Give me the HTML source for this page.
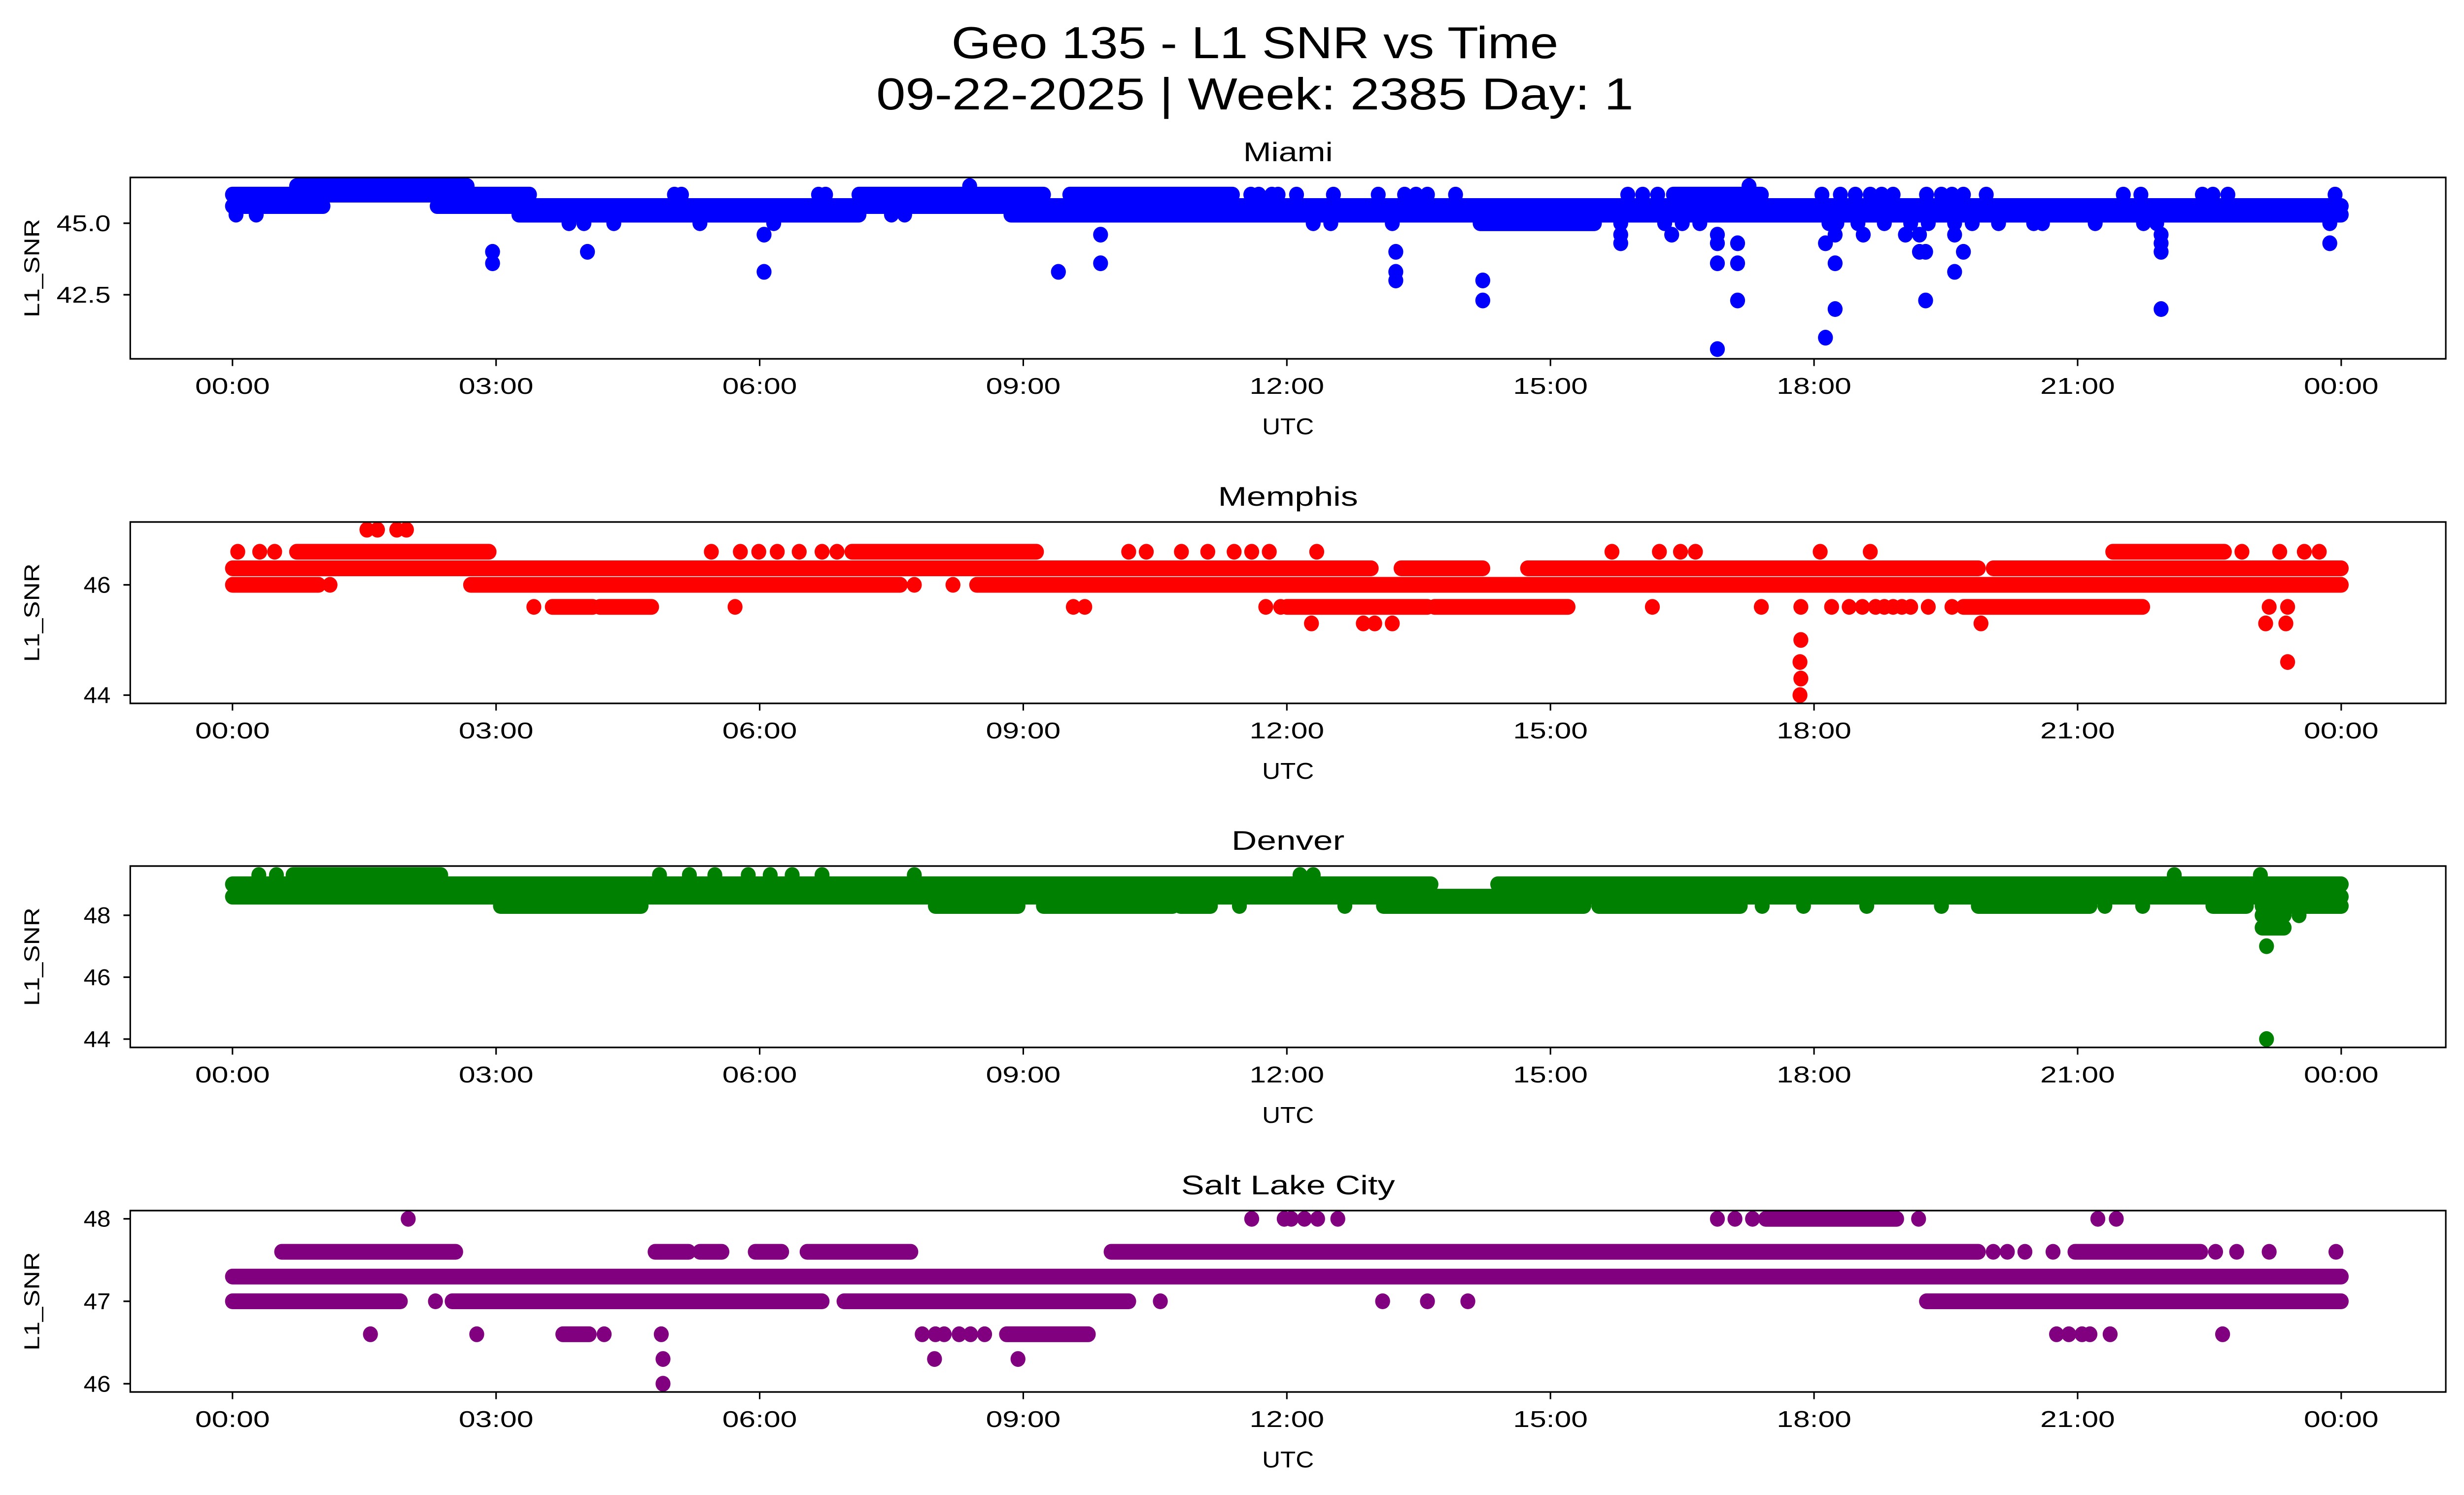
<!DOCTYPE html>
<html><head><meta charset="utf-8"><title>Geo 135 - L1 SNR vs Time</title>
<style>html,body{margin:0;padding:0;background:#fff;width:100%;height:100%;overflow:hidden}svg{display:block;position:absolute;left:0;top:0;width:100vw;height:100vh;font-family:"Liberation Sans","DejaVu Sans",sans-serif}</style>
</head><body>
<svg id="fig" xmlns="http://www.w3.org/2000/svg" viewBox="0 0 5278 3033" preserveAspectRatio="none">
<rect width="5278" height="3033" fill="#fff"/>
<text x="2688" y="118" font-size="91" text-anchor="middle" textLength="1300" lengthAdjust="spacingAndGlyphs">Geo 135 - L1 SNR vs Time</text>
<text x="2688" y="222" font-size="91" text-anchor="middle" textLength="1622" lengthAdjust="spacingAndGlyphs">09-22-2025 | Week: 2385 Day: 1</text>
</svg>
<script>
// ---- shared axis data ----
const xTickHours = [0,3,6,9,12,15,18,21,24];
const xTickLabels = ["00:00","03:00","06:00","09:00","12:00","15:00","18:00","21:00","00:00"];

// ---- Miami ----
const miamiBandLevel = [46.3,46.0,46.0,46.0,46.0,45.6,45.6,45.3,45.3,45.3,45.0];
const miamiBandStart = [0.73,0,7.13,9.53,16.4,0,2.33,3.26,8.86,9.2,14.2];
const miamiBandEnd   = [2.67,3.38,9.23,11.38,17.4,1.03,24,7.13,9.23,24,15.5];
const miamiDotTime  = [2.96,2.96,4.04,6.05,6.05,9.4,9.88,9.88,13.24,13.24,13.24,14.23,14.23,15.8,15.8,16.38,16.9,16.9,16.9,16.9,17.13,17.13,17.13,18.13,18.13,18.24,18.24,18.24,18.56,19.04,19.2,19.2,19.27,19.27,19.6,19.6,19.7,21.95,21.95,21.95,21.95,23.87,
 3.83,4.0,4.34,5.32,6.16,12.3,12.5,13.2,15.8,16.3,16.5,16.7,18.17,18.26,18.5,18.8,19.1,19.3,19.6,19.8,20.1,20.5,20.6,21.2,21.75,21.9,23.87,
 0.04,0.27,7.5,7.65,8.39,17.26,
 5.03,5.11,6.67,6.75,11.59,11.68,11.83,11.9,12.11,12.53,13.04,13.34,13.47,13.6,13.92,15.88,16.05,16.22,18.09,18.3,18.47,18.64,18.77,18.9,19.28,19.45,19.57,19.7,19.96,21.52,21.72,22.42,22.54,22.71,23.93];
const miamiDotValue = [44.0,43.6,44.0,44.6,43.3,43.3,44.6,43.6,44.0,43.3,43.0,43.0,42.3,44.6,44.3,44.6,44.6,44.3,43.6,40.6,44.3,43.6,42.3,44.3,41.0,44.6,43.6,42.0,44.6,44.6,44.6,44.0,44.0,42.3,44.6,43.3,44.0,44.6,44.3,44.0,42.0,44.3,
 45.0,45.0,45.0,45.0,45.0,45.0,45.0,45.0,45.0,45.0,45.0,45.0,45.0,45.0,45.0,45.0,45.0,45.0,45.0,45.0,45.0,45.0,45.0,45.0,45.0,45.0,45.0,
 45.3,45.3,45.3,45.3,46.3,46.3,
 46.0,46.0,46.0,46.0,46.0,46.0,46.0,46.0,46.0,46.0,46.0,46.0,46.0,46.0,46.0,46.0,46.0,46.0,46.0,46.0,46.0,46.0,46.0,46.0,46.0,46.0,46.0,46.0,46.0,46.0,46.0,46.0,46.0,46.0,46.0];
const miamiYTicks = [42.5,45.0];
const miamiYTickLabels = ["42.5","45.0"];

// ---- Memphis ----
const memphisBandLevel = [46.6,46.6,46.6,46.3,46.3,46.3,46.3,46.0,46.0,46.0,45.6,45.6,45.6,45.6,45.6];
const memphisBandStart = [0.73,7.05,21.4,0,13.3,14.74,20.04,0,2.71,8.47,3.64,4.18,12,13.68,19.7];
const memphisBandEnd   = [2.92,9.15,22.67,12.96,14.23,19.87,24,0.98,7.6,24,4.1,4.77,13.6,15.2,21.74];
const memphisDotTime  = [1.53,1.65,1.87,1.98,
 0.06,0.31,0.48,5.45,5.78,5.99,6.2,6.45,6.71,6.88,10.2,10.4,10.8,11.1,11.4,11.6,11.8,12.34,15.7,16.24,16.48,16.65,18.07,18.64,22.87,23.3,23.58,23.75,
 1.11,7.76,8.2,
 3.43,5.72,9.57,9.7,11.76,11.93,16.16,17.4,17.85,18.2,18.4,18.55,18.7,18.8,18.9,19.0,19.1,19.3,19.57,23.18,23.39,
 12.28,12.87,13.0,13.2,19.9,23.14,23.37,
 17.85,17.84,23.39,17.85,17.84];
const memphisDotValue = [47.0,47.0,47.0,47.0,
 46.6,46.6,46.6,46.6,46.6,46.6,46.6,46.6,46.6,46.6,46.6,46.6,46.6,46.6,46.6,46.6,46.6,46.6,46.6,46.6,46.6,46.6,46.6,46.6,46.6,46.6,46.6,46.6,
 46.0,46.0,46.0,
 45.6,45.6,45.6,45.6,45.6,45.6,45.6,45.6,45.6,45.6,45.6,45.6,45.6,45.6,45.6,45.6,45.6,45.6,45.6,45.6,45.6,
 45.3,45.3,45.3,45.3,45.3,45.3,45.3,
 45.0,44.6,44.6,44.3,44.0];
const memphisYTicks = [44,46];
const memphisYTickLabels = ["44","46"];

// ---- Denver ----
const denverBandLevel = [49.3,49.0,49.0,48.6,48.3,48.3,48.3,48.3,48.3,48.3,48.3,48.3,48.3,48.0,47.6];
const denverBandStart = [0.69,0,14.4,0,3.05,8.0,9.23,10.79,13.1,15.55,19.87,22.54,23.1,23.1,23.1];
const denverBandEnd   = [2.37,13.64,24,24,4.65,8.94,10.7,11.13,15.38,17.16,21.14,22.92,24,23.35,23.35];
const denverDotTime  = [0.3,0.5,4.86,5.2,5.49,5.87,6.12,6.37,6.71,7.76,12.15,12.3,22.1,23.08,
 11.46,12.66,17.41,17.88,18.6,19.45,21.31,21.74,
 23.52,23.15,23.15];
const denverDotValue = [49.3,49.3,49.3,49.3,49.3,49.3,49.3,49.3,49.3,49.3,49.3,49.3,49.3,49.3,
 48.3,48.3,48.3,48.3,48.3,48.3,48.3,48.3,
 48.0,47.0,44.0];
const denverYTicks = [44,46,48];
const denverYTickLabels = ["44","46","48"];

// ---- Salt Lake City ----
const slcBandLevel = [47.6,47.6,47.6,47.6,47.6,47.6,47.6,47.3,47.0,47.0,47.0,47.0,48.0,46.6,46.6];
const slcBandStart = [0.56,4.81,5.32,5.95,6.54,10.0,20.97,0,0,2.5,6.96,19.28,17.45,3.76,8.81];
const slcBandEnd   = [2.54,5.19,5.57,6.25,7.72,19.87,22.4,24,1.91,6.71,10.2,24,18.94,4.06,9.74];
const slcDotTime  = [2.0,11.6,11.97,12.05,12.2,12.35,12.58,16.9,17.1,17.3,19.19,21.23,21.44,
 20.04,20.2,20.4,20.72,22.57,22.81,23.18,23.94,
 2.31,10.56,13.09,13.6,14.06,
 1.57,2.78,4.23,4.88,7.85,8.0,8.1,8.27,8.4,8.56,20.76,20.9,21.05,21.14,21.37,22.65,
 4.9,7.99,8.94,4.9];
const slcDotValue = [48.0,48.0,48.0,48.0,48.0,48.0,48.0,48.0,48.0,48.0,48.0,48.0,48.0,
 47.6,47.6,47.6,47.6,47.6,47.6,47.6,47.6,
 47.0,47.0,47.0,47.0,47.0,
 46.6,46.6,46.6,46.6,46.6,46.6,46.6,46.6,46.6,46.6,46.6,46.6,46.6,46.6,46.6,46.6,
 46.3,46.3,46.3,46.0];
const slcYTicks = [46,47,48];
const slcYTickLabels = ["46","47","48"];

const NS = "http://www.w3.org/2000/svg";
const svg = document.getElementById("fig");
const AX_LEFT = 279, AX_RIGHT = 5239, AX_H = 368;
const X0 = 498, X24 = 5015;
const R = 16;
const FS = 46;
function xScale(h){ return X0 + (X24 - X0) * h / 24; }
function mk(tag, attrs){ const e = document.createElementNS(NS, tag); for (const k in attrs) e.setAttribute(k, attrs[k]); return e; }

const panels = [
 {name:"miami", title:"Miami", tw:192, top:360, ymin:40.26, ymax:46.6, color:"#0000ff", bl:miamiBandLevel, bs:miamiBandStart, be:miamiBandEnd, dt:miamiDotTime, dv:miamiDotValue, yt:miamiYTicks, ytl:miamiYTickLabels},
 {name:"memphis", title:"Memphis", tw:300, top:1059, ymin:43.85, ymax:47.14, color:"#ff0000", bl:memphisBandLevel, bs:memphisBandStart, be:memphisBandEnd, dt:memphisDotTime, dv:memphisDotValue, yt:memphisYTicks, ytl:memphisYTickLabels},
 {name:"denver", title:"Denver", tw:242, top:1757, ymin:43.73, ymax:49.59, color:"#008000", bl:denverBandLevel, bs:denverBandStart, be:denverBandEnd, dt:denverDotTime, dv:denverDotValue, yt:denverYTicks, ytl:denverYTickLabels},
 {name:"salt-lake-city", title:"Salt Lake City", tw:458, top:2456, ymin:45.9, ymax:48.1, color:"#800080", bl:slcBandLevel, bs:slcBandStart, be:slcBandEnd, dt:slcDotTime, dv:slcDotValue, yt:slcYTicks, ytl:slcYTickLabels}
];

panels.forEach(p => {
  const top = p.top, bot = top + AX_H;
  const yScale = v => bot - (v - p.ymin) / (p.ymax - p.ymin) * AX_H;
  const g = mk("g", {});
  
  
  svg.appendChild(g);

  const clipId = "clip-" + p.name;
  const cp = mk("clipPath", {id: clipId});
  cp.appendChild(mk("rect", {x: AX_LEFT, y: top, width: AX_RIGHT - AX_LEFT, height: AX_H}));
  g.appendChild(cp);

  const series = mk("g", {"clip-path": "url(#" + clipId + ")", fill: p.color, stroke: p.color});
  
  
  g.appendChild(series);

  for (let i = 0; i < p.bl.length; i++) {
    const y = yScale(p.bl[i]);
    const ln = mk("line", {x1: xScale(p.bs[i]), x2: xScale(p.be[i]), y1: y, y2: y, "stroke-width": 2 * R, "stroke-linecap": "round"});
    
    
    series.appendChild(ln);
  }
  for (let i = 0; i < p.dt.length; i++) {
    const c = mk("circle", {cx: xScale(p.dt[i]), cy: yScale(p.dv[i]), r: R, stroke: "none"});
    
    
    series.appendChild(c);
  }

  const frame = mk("rect", {x: AX_LEFT, y: top, width: AX_RIGHT - AX_LEFT, height: AX_H, fill: "none", stroke: "#000", "stroke-width": 3.3});
  
  
  g.appendChild(frame);

  for (let i = 0; i < xTickHours.length; i++) {
    const x = xScale(xTickHours[i]);
    const t = mk("line", {x1: x, x2: x, y1: bot, y2: bot + 14.6, stroke: "#000", "stroke-width": 3.3});
    
    
    g.appendChild(t);
    const tl = mk("text", {x: x, y: bot + 71, "font-size": FS, "text-anchor": "middle", textLength: 160, lengthAdjust: "spacingAndGlyphs"});
    
    
    tl.textContent = xTickLabels[i];
    g.appendChild(tl);
  }
  for (let i = 0; i < p.yt.length; i++) {
    const y = yScale(p.yt[i]);
    const t = mk("line", {x1: AX_LEFT - 14.6, x2: AX_LEFT, y1: y, y2: y, stroke: "#000", "stroke-width": 3.3});
    
    
    g.appendChild(t);
    const lab = p.ytl[i];
    const tl = mk("text", {x: 237, y: y + 16, "font-size": FS, "text-anchor": "end", textLength: lab.length * 29, lengthAdjust: "spacingAndGlyphs"});
    
    
    tl.textContent = lab;
    g.appendChild(tl);
  }
  const xl = mk("text", {x: (AX_LEFT + AX_RIGHT) / 2, y: bot + 153, "font-size": FS, "text-anchor": "middle", textLength: 111, lengthAdjust: "spacingAndGlyphs"});
  
  
  xl.textContent = "UTC";
  g.appendChild(xl);

  const cy = top + AX_H / 2;
  const yl = mk("text", {x: 0, y: 0, "font-size": FS, "text-anchor": "middle", textLength: 200, lengthAdjust: "spacingAndGlyphs", transform: "translate(84," + cy + ") rotate(-90)"});
  
  
  yl.textContent = "L1_SNR";
  g.appendChild(yl);

  const tt = mk("text", {x: (AX_LEFT + AX_RIGHT) / 2, y: top - 33, "font-size": 55, "text-anchor": "middle", textLength: p.tw, lengthAdjust: "spacingAndGlyphs"});
  
  
  tt.textContent = p.title;
  g.appendChild(tt);
});
</script>
</body></html>
